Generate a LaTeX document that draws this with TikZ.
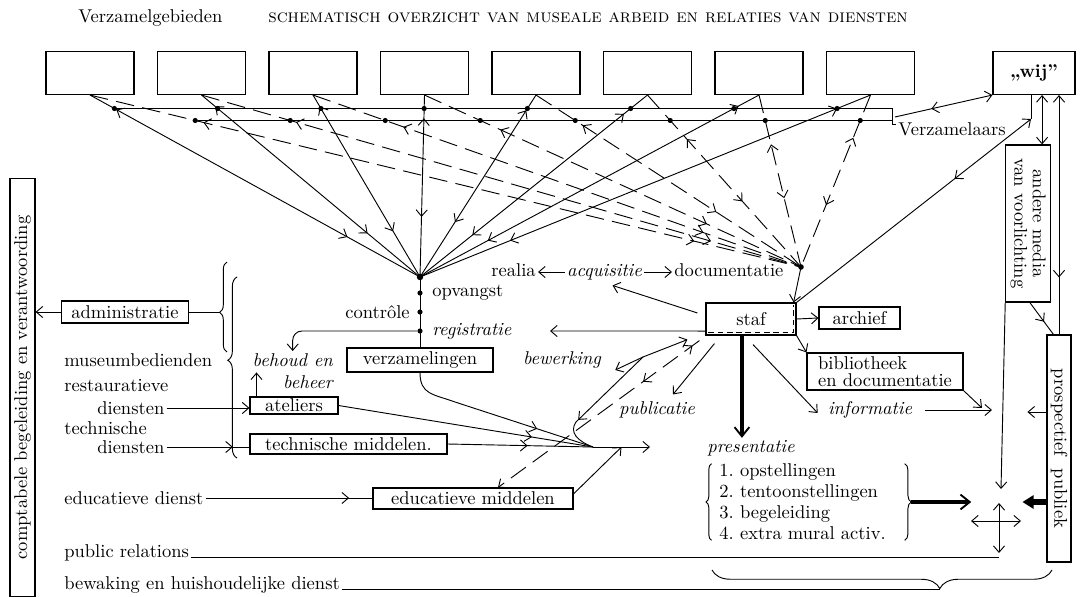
\documentclass[tikz,border=0pt]{standalone}
\usepackage{graphicx}
\usepackage{tikz}
\usetikzlibrary{arrows.meta, positioning, calc, decorations.pathreplacing, decorations.markings}

\begin{document}
\begin{tikzpicture}[
  x=0.54pt, y=-0.54pt, line width=0.5pt, inner sep=1pt,
  >={Straight Barb[length=3.5pt,width=6pt]},
  box/.style={draw, line width=0.6pt, inner sep=1pt},
  gebied/.style={box, minimum width=47.5pt, minimum height=23.2pt},
  punt/.style={circle, fill, inner sep=0pt, minimum size=2.8pt},
  streep/.style={dash pattern=on 10pt off 4.5pt},
  regel/.style={text height=6.9pt, text depth=1.9pt},
  pijlen/.style 2 args={postaction={decorate}, decoration={markings, mark=at position #1 with {\arrow{<}}, mark=at position #2 with {\arrow{>}}}},
  heen/.style={postaction={decorate}, decoration={markings, mark=at position #1 with {\arrow{>}}}},
  terug/.style={postaction={decorate}, decoration={markings, mark=at position #1 with {\arrow{<}}}},
  accolade/.style 2 args={decorate, decoration={brace, amplitude=#1, aspect=#2}},
  dik/.style={line width=2.2pt, -{Straight Barb[length=5pt,width=8pt,line width=1pt]}}
]
\useasboundingbox (0,0) rectangle (1081,597);

% koppen
\node[anchor=west] (kop) at (76,18) {Verzamelgebieden};
\node[anchor=west] (titel) at (266,18) {\textsc{schematisch overzicht van museale arbeid en relaties van diensten}};

% verzamelgebieden
\foreach \i in {1,...,8}
  \node[gebied] (g\i) at ({90+111.5*(\i-1)},73) {};
\node[gebied, minimum width=44.3pt] (wij) at (1034,73) {\textbf{„wij”}};

\coordinate (opv) at (420,277);
\coordinate (doc) at (801,267);
\coordinate (conv) at (593,447);

\foreach \i/\a/\b/\c/\d in {1/0.1/0.78/0.17/0.85, 2/0.09/0.76/0.17/0.85, 3/0.1/0.75/0.2/0.8, 4/0.17/0.67/0.22/0.75, 5/0.12/0.7/0.2/0.68, 6/0.13/0.77/0.29/0.62, 7/0.08/0.8/0.33/0.6, 8/0.09/0.8/0.29/0.64} {
  \draw[pijlen={\a}{\b}] (g\i.south) -- (opv);
  \draw[streep, pijlen={\c}{\d}] (g\i.south) -- (doc);
  \node[punt] (o\i) at ($(g\i.south)!0.074!(opv)$) {};
  \node[punt] (l\i) at ($(g\i.south)!0.148!(doc)$) {};
}
\node[punt, minimum size=3.5pt] (opvpunt) at (opv) {};
\node[punt, minimum size=3pt] (docpunt) at (doc) {};

% verzamelaars
\coordinate (vzk) at (892,124);
\draw (o1) -- (o1 -| vzk) -- (vzk) -- ++(4,0);
\draw (l1) -- (l1 -| vzk);
\node[anchor=west, inner sep=0pt] (vzl) at (898,129) {Verzamelaars};
\coordinate (vzt) at (895,117);
\draw[->, terug=0.45] (vzt) -- (wij.south west);

% opvangst en verzamelingen
\node[box, minimum width=78.8pt, minimum height=13pt] (verz) at (420,360) {verzamelingen};
\draw (opv) -- (verz.north);
\node[punt] (p1) at (420,293) {};
\node[punt] (p2) at (420,312) {};
\node[punt] (p3) at (420,331) {};
\node[anchor=west] (opvangst) at (430,293) {opvangst};
\node[anchor=east] (controle) at (412,312) {contrôle};
\node[anchor=west, font=\itshape] (registratie) at (430,331) {registratie};
\node[anchor=east, align=right, font=\itshape] (behoud) at (335,371) {behoud en\\beheer};
\draw[->, rounded corners=5pt] (p3) -| (behoud.north);

% links
\node[box, minimum width=13.5pt, minimum height=226pt] (compt) at (22.5,387.5) {\rotatebox{90}{comptabele begeleiding en verantwoording}};
\node[box, minimum width=69pt, minimum height=11.9pt] (adm) at (125,312) {administratie};
\draw[->] (adm.west) -- (adm.west -| compt.east);
\draw[accolade={4pt}{0.44}] (227,352) -- (227,262);
\coordinate (acc1) at (219.6,312);
\draw (adm.east) -- (acc1);
\draw[accolade={5pt}{0.54}] (237,458) -- (237,277);

\node[anchor=west] (mb) at (62,360) {museumbedienden};
\node[anchor=west] (rest) at (62,386) {restauratieve};
\node[anchor=west] (rd) at (95,408) {diensten};
\node[anchor=west] (techn) at (62,428) {technische};
\node[anchor=west] (td) at (95,447) {diensten};
\node[anchor=west] (edd) at (62,498) {educatieve dienst};
\node[anchor=base west] (pr) at (62,557) {public relations};
\node[anchor=base west] (bew) at (62,589) {bewaking en huishoudelijke dienst};

\node[box, minimum width=47.5pt, minimum height=9.2pt] (atel) at (294,405.5) {ateliers};
\node[box, minimum width=106.4pt, minimum height=10.8pt] (techm) at (348.5,444) {technische middelen.};
\node[box, minimum width=108pt, minimum height=11.3pt] (edu) at (473,498.5) {educatieve middelen};
\draw[->] ([xshift=3.8pt]atel.north west) -- ++(0,-24);
\draw[->] (rd.east) -- (rd.east -| atel.west);
\draw[heen=0.8] (td.east) -- (td.east -| techm.west);
\draw[heen=0.86] (edd.east) -- (edd.east -| edu.west);

% samenkomst
\coordinate (convuit) at (650,447);
\draw[heen=0.76] (atel.east) -- (conv);
\draw[heen=0.55] (techm.east) -- (conv);
\draw[heen=0.7] (verz.south) .. controls +(0,22) and +(-22,-8) .. (455,402) -- (conv);
\draw[->] (conv) -- (convuit);
\draw[->] ([yshift=2.5pt]edu.east) -- ($(conv)!0.5!(convuit)$);

% staf
\node[box, minimum width=48.6pt, minimum height=17.3pt] (staf) at (751,319) {staf};
\draw[dash pattern=on 3pt off 2pt] ($(staf.south west)+(3,-3)$) -- ($(staf.south east)+(-3,-3)$) -- ($(staf.north east)+(-3,3)$);
\node[box, minimum width=43.7pt, minimum height=11.9pt] (archief) at (859.5,318) {archief};
\node[box, align=left, minimum width=84.2pt, minimum height=20pt, font=\fontsize{10}{9.5}\selectfont] (biblio) at (885,371.5) {bibliotheek\\en documentatie};
\draw[->] (staf.east) -- (archief.west);
\draw[->] (staf.south east) -- (biblio.north west);

\node[regel, font=\itshape] (acq) at (604.5,272) {acquisitie};
\node[regel, anchor=east] (realia) at (538,272) {realia};
\node[regel, anchor=west] (docum) at (672,272) {documentatie};
\draw[->] (acq.west) -- (realia.east);
\draw[->] (acq.east) -- (docum.west);

\draw[->] (doc) -- ([xshift=-1.6pt]staf.north east);
\draw[->] ($(staf.west)+(-8,-6)$) -- ($(acq.south)+(8,3)$);
\coordinate (regpijl) at (550,331);
\draw[->] ([yshift=-6.5pt]staf.west) -- (regpijl);
\coordinate (wijknik) at (1031,119);
\draw[->, terug=0.7] (staf.north east) -- (wijknik);
\draw (wijknik) -- (wijknik |- wij.south);

\node[font=\itshape] (bewerk) at (562,360) {bewerking};
\coordinate (splits) at (643,357);
\draw[<-] ($(staf.south west)+(-18,4)$) -- (splits);
\draw[->] (splits) -- ($(bewerk.east)+(12,10)$);
\draw[heen=0.7] (splits) -- (576,422) .. controls (569,432) and (577,441) .. (conv);

\node[font=\itshape] (publ) at (657,410) {publicatie};
\draw[->] ($(staf.south west)+(9,8)$) -- ($(publ.north)+(16,-5)$);
\draw[streep, ->, pijlen={0.065}{0.28}] ($(staf.south west)+(-6,5)$) -- ($(edu.north)+(25,0)$);

\node[font=\itshape] (info) at (870,410) {informatie};
\coordinate (infodoel) at (992,412);
\draw[->] ($(staf.south)+(2,9)$) -- ($(info.west)+(-8,3)$);
\draw[->] ([xshift=6pt]info.east) -- (info.east -| infodoel);
\draw[->] (biblio.south east) -- ($(infodoel)+(-10,-4)$);

% presentatie
\node[anchor=west, font=\itshape] (pres) at (705,448) {presentatie};
\draw[dik] ([xshift=-4.9pt]staf.south) -- ([xshift=-4.9pt]staf.south |- pres.north);
\node[anchor=west, align=left, inner sep=0pt, font=\fontsize{10}{11.3}\selectfont] (lijst) at (719,502) {1.\ opstellingen\\2.\ tentoonstellingen\\3.\ begeleiding\\4.\ extra mural activ.};
\draw[accolade={3pt}{0.5}] ([xshift=-4pt]lijst.south west) -- ([xshift=-4pt]lijst.north west);
\draw[accolade={3.5pt}{0.5}] ([xshift=10pt]lijst.north east) -- ([xshift=10pt]lijst.south east);
\coordinate (presuit) at ([xshift=13.5pt]lijst.east);
\draw[dik] (presuit) -- ++(60,0);

% rechts
\node[box, minimum width=21.6pt, minimum height=84.8pt] (andere) at (1028,223.5) {\rotatebox{-90}{\begin{tabular}{@{}c@{}}andere media\\[-2pt]van voorlichting\end{tabular}}};
\node[box, minimum width=13pt, minimum height=122.6pt] (prosp) at (1059,448.5) {\rotatebox{-90}{prospectief\ \ publiek}};
\draw[<->] ([xshift=7.6pt]andere.north) -- ([xshift=7.6pt]andere.north |- wij.south);
\draw[->, terug=0.27] (prosp.north) -- (prosp.north |- wij.south);
\draw[heen=0.6] ([xshift=1pt]andere.south) -- ([xshift=-3pt]prosp.north);
\coordinate (kruis) at (999,521);
\draw[->] (andere.south west) -- ($(kruis)+(2,-32)$);
\draw[<->] ($(kruis)+(0,-18)$) -- ($(kruis)+(0,32)$);
\draw[<->] ($(kruis)+(-28,0)$) -- ($(kruis)+(22,0)$);
\draw[->] (prosp.west |- infodoel) -- ++(-19,0);
\draw[line width=3pt, -{Triangle[length=6pt,width=7pt]}] (prosp.west |- presuit) -- ++(-24,0);

% onderaan
\coordinate (bracetip) at (940,589);
\draw (pr.base east) -- (pr.base east -| kruis);
\draw (bew.base east) -- (bew.base east -| bracetip);
\draw[accolade={10pt}{0.33}] (1052,570) -- (712,570);
\end{tikzpicture}
\end{document}
